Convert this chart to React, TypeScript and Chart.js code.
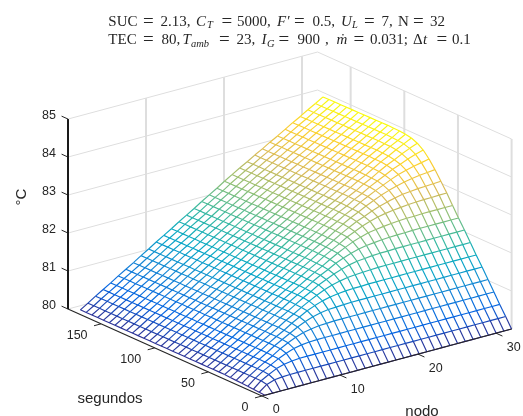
import React, { useEffect, useRef } from "react";
import { Chart, registerables } from "chart.js";

Chart.register(...registerables);

const WIDTH = 523;
const HEIGHT = 416;

// ---------- data ----------
const nodes = [0,1,2,3,4,5,6,7,8,9,10,11,12,13,14,15,16,17,18,19,20,21,22,23,24,25,26,27,28,29,30,31,32];
const seconds = [0,5.4,10.8,16.1,21.5,26.9,32.3,37.6,43,48.4,53.8,59.1,64.5,69.9,75.3,80.6,86,91.4,96.8,102.1,107.5,112.9,118.3,123.6,129,134.4,139.8,145.1,150.5,155.9,161.3,166.6,172];

const settled = [.07,.19,.32,.44,.56,.69,.81,.93,1.06,1.18,1.31,1.43,1.55,1.68,1.80,1.92,2.05,2.17,2.29,2.42,2.54,2.66,2.77,2.89,3.00,3.12,3.23,3.35,3.47,3.58,3.70,3.81,3.93];

// temperature above 80 °C; one row per entry of `seconds`, one column per entry of `nodes`
const riseAbove80 = [
  [0,0,0,0,0,0,0,0,0,0,0,0,0,0,0,0,0,0,0,0,0,0,0,0,0,0,0,0,0,0,0,0,0],
  [.01,.16,.23,.25,.26,.26,.26,.26,.26,.26,.26,.26,.26,.26,.26,.26,.26,.26,.26,.26,.26,.26,.26,.26,.26,.26,.26,.26,.26,.26,.26,.26,.26],
  [.02,.19,.30,.40,.46,.49,.51,.51,.51,.51,.51,.51,.51,.51,.51,.51,.51,.51,.51,.51,.51,.51,.51,.51,.51,.51,.51,.51,.51,.51,.51,.51,.51],
  [.03,.19,.32,.43,.54,.63,.70,.74,.76,.77,.77,.77,.77,.77,.77,.77,.77,.77,.77,.77,.77,.77,.77,.77,.77,.77,.77,.77,.77,.77,.77,.77,.77],
  [.04,.19,.32,.44,.55,.68,.78,.87,.94,.98,1.01,1.02,1.03,1.03,1.03,1.03,1.03,1.03,1.03,1.03,1.03,1.03,1.03,1.03,1.03,1.03,1.03,1.03,1.03,1.03,1.03,1.03,1.03],
  [.05,.19,.32,.44,.56,.69,.80,.91,1.02,1.11,1.18,1.23,1.26,1.27,1.28,1.29,1.29,1.29,1.29,1.29,1.29,1.29,1.29,1.29,1.29,1.29,1.29,1.29,1.29,1.29,1.29,1.29,1.29],
  [.06,.19,.32,.44,.56,.69,.81,.92,1.05,1.16,1.27,1.35,1.42,1.47,1.50,1.52,1.53,1.53,1.54,1.54,1.54,1.54,1.54,1.54,1.54,1.54,1.54,1.54,1.54,1.54,1.54,1.54,1.54],
  [.07,.19,.32,.44,.56,.69,.81,.93,1.06,1.17,1.29,1.40,1.50,1.59,1.66,1.71,1.75,1.77,1.78,1.79,1.80,1.80,1.80,1.80,1.80,1.80,1.80,1.80,1.80,1.80,1.80,1.80,1.80],
  [.07,.19,.32,.44,.56,.69,.81,.93,1.06,1.18,1.30,1.42,1.53,1.65,1.74,1.83,1.90,1.96,2.00,2.02,2.04,2.05,2.05,2.06,2.06,2.06,2.06,2.06,2.06,2.06,2.06,2.06,2.06],
  [.07,.19,.32,.44,.56,.69,.81,.93,1.06,1.18,1.31,1.43,1.54,1.67,1.78,1.88,1.99,2.07,2.14,2.20,2.24,2.26,2.28,2.29,2.30,2.30,2.31,2.31,2.31,2.31,2.31,2.31,2.31],
  [.07,.19,.32,.44,.56,.69,.81,.93,1.06,1.18,1.31,1.43,1.55,1.67,1.79,1.90,2.02,2.13,2.23,2.32,2.39,2.45,2.48,2.51,2.53,2.55,2.56,2.56,2.57,2.57,2.57,2.57,2.57],
  [.07,.19,.32,.44,.56,.69,.81,.93,1.06,1.18,1.31,1.43,1.55,1.68,1.80,1.91,2.04,2.15,2.26,2.38,2.47,2.56,2.63,2.69,2.73,2.76,2.78,2.80,2.81,2.82,2.82,2.83,2.83],
  [.07,.19,.32,.44,.56,.69,.81,.93,1.06,1.18,1.31,1.43,1.55,1.68,1.80,1.92,2.04,2.16,2.28,2.40,2.51,2.61,2.69,2.78,2.85,2.91,2.96,3.00,3.02,3.04,3.05,3.06,3.07],
  [.07,.19,.32,.44,.56,.69,.81,.93,1.06,1.18,1.31,1.43,1.55,1.68,1.80,1.92,2.05,2.17,2.28,2.41,2.53,2.64,2.74,2.84,2.93,3.02,3.09,3.15,3.20,3.24,3.27,3.29,3.31],
  [.07,.19,.32,.44,.56,.69,.81,.93,1.06,1.18,1.31,1.43,1.55,1.68,1.80,1.92,2.05,2.17,2.29,2.42,2.53,2.65,2.75,2.87,2.97,3.07,3.16,3.25,3.33,3.39,3.44,3.48,3.52],
  [.07,.19,.32,.44,.56,.69,.81,.93,1.06,1.18,1.31,1.43,1.55,1.68,1.80,1.92,2.05,2.17,2.29,2.42,2.54,2.66,2.76,2.88,2.98,3.10,3.20,3.30,3.40,3.48,3.56,3.63,3.69],
  [.07,.19,.32,.44,.56,.69,.81,.93,1.06,1.18,1.31,1.43,1.55,1.68,1.80,1.92,2.05,2.17,2.29,2.42,2.54,2.66,2.77,2.89,2.99,3.11,3.21,3.33,3.44,3.53,3.63,3.72,3.80],
  [.07,.19,.32,.44,.56,.69,.81,.93,1.06,1.18,1.31,1.43,1.55,1.68,1.80,1.92,2.05,2.17,2.29,2.42,2.54,2.66,2.77,2.89,3.00,3.12,3.22,3.34,3.46,3.56,3.67,3.77,3.87],
  [.07,.19,.32,.44,.56,.69,.81,.93,1.06,1.18,1.31,1.43,1.55,1.68,1.80,1.92,2.05,2.17,2.29,2.42,2.54,2.66,2.77,2.89,3.00,3.12,3.23,3.35,3.46,3.57,3.69,3.79,3.90],
  [.07,.19,.32,.44,.56,.69,.81,.93,1.06,1.18,1.31,1.43,1.55,1.68,1.80,1.92,2.05,2.17,2.29,2.42,2.54,2.66,2.77,2.89,3.00,3.12,3.23,3.35,3.47,3.58,3.69,3.80,3.92],
  [.07,.19,.32,.44,.56,.69,.81,.93,1.06,1.18,1.31,1.43,1.55,1.68,1.80,1.92,2.05,2.17,2.29,2.42,2.54,2.66,2.77,2.89,3.00,3.12,3.23,3.35,3.47,3.58,3.70,3.81,3.92],
  settled, settled, settled, settled, settled, settled,
  settled, settled, settled, settled, settled, settled,
];

const nodeTicks = [0, 10, 20, 30];
const secondTicks = [0, 50, 100, 150];
const tempTicks = [80, 81, 82, 83, 84, 85];
const gridNodes = [10, 20, 30];
const gridSeconds = [0, 50, 100, 150];

const titleTokens: [string, number, number, string][] = [
  // text, x, line, style
  ["SUC", 108.3, 0, ""], ["=", 143, 0, "e"], ["2.13,", 160.5, 0, ""], ["C", 196, 0, "i"], ["T", 207, 0, "s"],
  ["=", 221.5, 0, "e"], ["5000,", 237, 0, ""], ["F′", 277, 0, "i"], ["=", 294, 0, "e"], ["0.5,", 312.5, 0, ""],
  ["U", 341, 0, "i"], ["L", 352, 0, "s"], ["=", 364, 0, "e"], ["7,", 381.5, 0, ""], ["N", 398, 0, ""],
  ["=", 413, 0, "e"], ["32", 430, 0, ""],
  ["TEC", 108.3, 1, ""], ["=", 143, 1, "e"], ["80,", 161.5, 1, ""], ["T", 182.5, 1, "i"], ["amb", 191, 1, "s"],
  ["=", 219, 1, "e"], ["23,", 236.5, 1, ""], ["I", 261.5, 1, "i"], ["G", 267, 1, "s"], ["=", 278.5, 1, "e"],
  ["900", 297.5, 1, ""], [",", 325, 1, ""], ["ṁ", 336.5, 1, "i"], ["=", 353.5, 1, "e"], ["0.031;", 370, 1, ""],
  ["Δ", 413, 1, ""], ["t", 423, 1, "i"], ["=", 436.5, 1, "e"], ["0.1", 452, 1, ""],
];

// ---------- view of the 3-D box ----------
const view = { ox: 262, oy: 396, nx: 7.8, ny: 2.094, tx: 1.073, ty: 0.481, zy: 38 };
const nodeEnd = 32;
const secondEnd = 180.8;
const meshOffset = 0.38;
const meshStretch = 0.988;
const meshSkew = 4;

const project = (n: number, s: number, deg: number) => ({
  x: view.ox + n * view.nx - s * view.tx,
  y: view.oy - n * view.ny - s * view.ty - (deg - 80) * view.zy,
});

const meshPoint = (row: number, col: number) => {
  const n = meshOffset + nodes[col] * meshStretch;
  const s = seconds[row];
  const p = project(n, s, 80 + riseAbove80[row][col]);
  return { x: p.x - meshSkew * (nodes[col] / 32) * (s / 172), y: p.y };
};

const parula: [number, number, number][] = [
  [53, 42, 135], [3, 99, 225], [20, 133, 212], [6, 167, 198], [56, 185, 158],
  [146, 191, 115], [217, 186, 86], [252, 206, 46], [249, 251, 14],
];

const colorOf = (rise: number) => {
  const f = Math.min(0.9999, Math.max(0, rise / 3.93)) * (parula.length - 1);
  const i = Math.floor(f);
  const w = f - i;
  const a = parula[i];
  const b = parula[i + 1];
  return `rgb(${a.map((v, k) => Math.round(v + (b[k] - v) * w)).join(",")})`;
};

const plain = (a: any, b: any, color: string, width: number, order: number) => ({
  data: [a, b], borderColor: color, borderWidth: width, pointRadius: 0, order, fill: false,
});

function buildDatasets() {
  const out: any[] = [];
  const wall = "#dedede";
  const line = "#262626";
  // back walls
  tempTicks.forEach((d) => {
    out.push(plain(project(0, secondEnd, d), project(nodeEnd, secondEnd, d), wall, 1, 100));
    out.push(plain(project(nodeEnd, secondEnd, d), project(nodeEnd, 0, d), wall, 1, 100));
  });
  gridNodes.forEach((n) => out.push(plain(project(n, secondEnd, 80), project(n, secondEnd, 85), wall, 2, 100)));
  gridSeconds.forEach((s) => out.push(plain(project(nodeEnd, s, 80), project(nodeEnd, s, 85), wall, 2, 100)));

  // white faces hide what lies behind the mesh
  const last = nodes.length - 1;
  const lastRow = seconds.length - 1;
  const outline: any[] = [];
  nodes.forEach((_, c) => outline.push(meshPoint(0, c)));
  seconds.forEach((_, r) => outline.push(meshPoint(r, last)));
  nodes.forEach((_, c) => outline.push(meshPoint(lastRow, last - c)));
  seconds.forEach((_, r) => outline.push(meshPoint(lastRow - r, 0)));
  out.push({ data: outline, borderWidth: 0, borderColor: "rgba(0,0,0,0)", backgroundColor: "#ffffff", fill: "shape", pointRadius: 0, order: 50 });

  // mesh
  const meshLine = (pts: any[], rises: number[]) => ({
    data: pts,
    borderWidth: 1.15,
    borderColor: colorOf(rises[0]),
    pointRadius: 0,
    fill: false,
    order: 10,
    segment: {
      borderColor: (ctx: any) => colorOf((rises[ctx.p0DataIndex] + rises[ctx.p1DataIndex]) / 2),
    },
  });
  seconds.forEach((_, r) => {
    out.push(meshLine(nodes.map((_, c) => meshPoint(r, c)), riseAbove80[r]));
  });
  nodes.forEach((_, c) => {
    out.push(meshLine(seconds.map((_, r) => meshPoint(r, c)), riseAbove80.map((row) => row[c])));
  });

  // axes and ticks
  out.push(plain(project(0, secondEnd, 80), project(0, secondEnd, 85), "#1a1a1a", 2, 5));
  out.push(plain(project(0, secondEnd, 80), project(0, 0, 80), line, 1.2, 5));
  out.push(plain(project(0, 0, 80), project(nodeEnd, 0, 80), line, 1.2, 5));
  nodeTicks.forEach((n) => out.push(plain(project(n, 0, 80), project(n, -6, 80), line, 1, 5)));
  secondTicks.forEach((s) => out.push(plain(project(0, s, 80), project(-0.9, s, 80), line, 1, 5)));
  tempTicks.forEach((d) => out.push(plain(project(0, secondEnd, d), project(0, secondEnd + 6, d), line, 1, 5)));
  return out;
}

const labelPlugin = {
  id: "labels3d",
  afterDraw(chart: any) {
    const { ctx, scales } = chart;
    const X = (v: number) => scales.x.getPixelForValue(v);
    const Y = (v: number) => scales.y.getPixelForValue(v);
    ctx.save();
    ctx.fillStyle = "#262626";
    ctx.textBaseline = "middle";
    ctx.font = "12.5px 'Liberation Sans'";
    ctx.textAlign = "right";
    tempTicks.forEach((d) => {
      const p = project(0, secondEnd, d);
      ctx.fillText(String(d), X(56), Y(p.y - 3));
    });
    secondTicks.forEach((s) => {
      const p = project(0, s, 80);
      ctx.fillText(String(s), X(p.x - 13.5), Y(p.y + 12));
    });
    ctx.textAlign = "left";
    nodeTicks.forEach((n) => {
      const p = project(n, 0, 80);
      ctx.fillText(String(n), X(p.x + 10.7), Y(p.y + 14));
    });
    ctx.textAlign = "center";
    ctx.font = "15px 'Liberation Sans'";
    ctx.fillText("segundos", X(110), Y(399));
    ctx.fillText("nodo", X(422), Y(412));
    ctx.save();
    ctx.translate(X(22), Y(197));
    ctx.rotate(-Math.PI / 2);
    ctx.fillText("°C", 0, 0);
    ctx.restore();

    ctx.textAlign = "left";
    ctx.textBaseline = "alphabetic";
    const baselines = [25.5, 44];
    titleTokens.forEach(([text, x, lineNo, style]) => {
      const serif = "'Liberation Serif'";
      if (style === "i") ctx.font = `italic 15px ${serif}`;
      else if (style === "s") ctx.font = `italic 10.5px ${serif}`;
      else if (style === "e") ctx.font = `19px ${serif}`;
      else ctx.font = `15px ${serif}`;
      const lift = style === "s" ? 2.5 : style === "e" ? 1 : 0;
      ctx.fillText(text, X(x), Y(baselines[lineNo] + lift));
    });
    ctx.restore();
  },
};

export default function App() {
  const ref = useRef<HTMLCanvasElement>(null);
  useEffect(() => {
    document.body.style.margin = "0";
    const chart = new Chart(ref.current as HTMLCanvasElement, {
      type: "line",
      data: { datasets: buildDatasets() },
      options: {
        animation: false,
        responsive: false,
        events: [],
        layout: { padding: 0 },
        elements: { line: { tension: 0 } },
        plugins: { legend: { display: false }, tooltip: { enabled: false }, title: { display: false } },
        scales: {
          x: { type: "linear", min: 0, max: WIDTH, display: false },
          y: { type: "linear", min: 0, max: HEIGHT, reverse: true, display: false },
        },
      },
      plugins: [labelPlugin],
    } as any);
    return () => chart.destroy();
  }, []);
  return <canvas ref={ref} width={WIDTH} height={HEIGHT} style={{ display: "block" }} />;
}
